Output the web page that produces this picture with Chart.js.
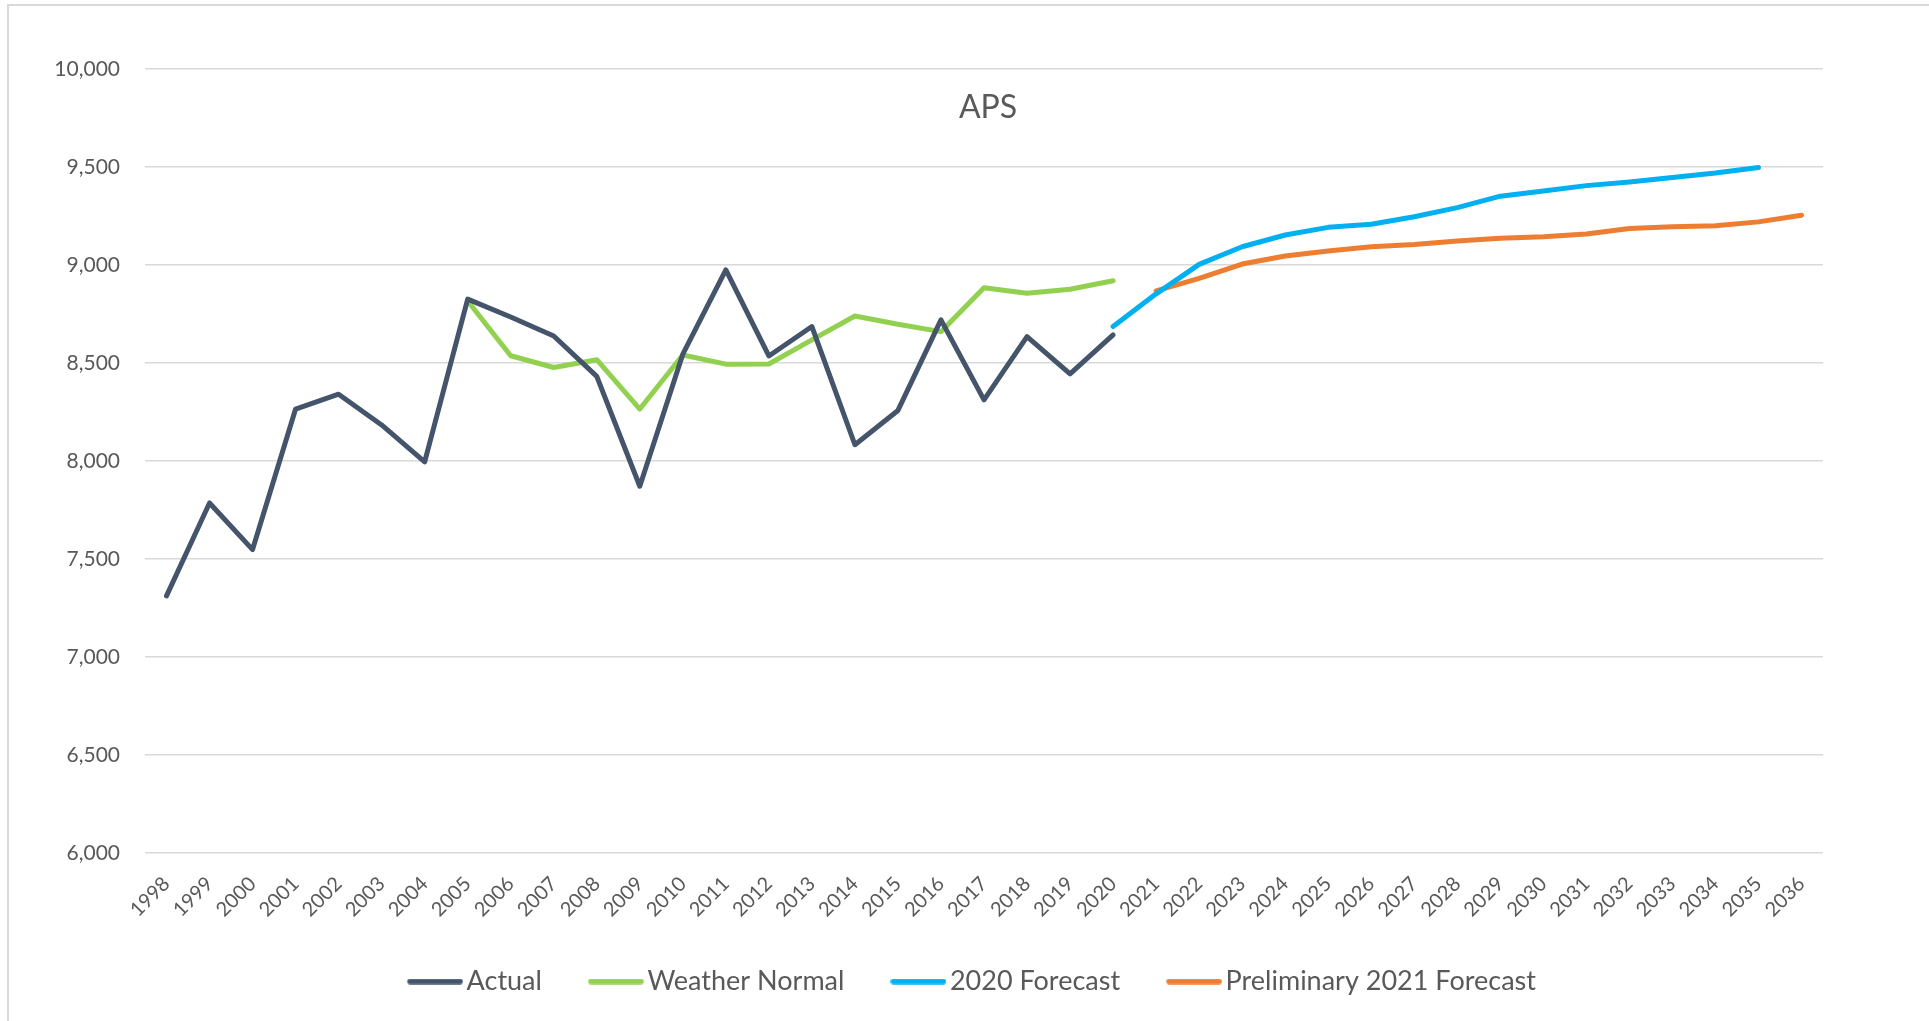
<!DOCTYPE html>
<html>
<head>
<meta charset="utf-8">
<script src="https://cdn.jsdelivr.net/npm/chart.js@4"></script>
<style>
  html, body { margin: 0; padding: 0; background: #ffffff; overflow: hidden; }
  #frame { position: absolute; left: 7px; top: 4px; width: 2000px; height: 1100px;
           border-left: 2px solid #d9d9d9; border-top: 2px solid #d9d9d9; box-sizing: border-box; }
  #c { position: absolute; left: 0; top: 0; }
</style>
</head>
<body>
<div id="frame"></div>
<canvas id="c" width="1929" height="1021"></canvas>
<script>
const chartTitle = "APS";
const years = ["1998","1999","2000","2001","2002","2003","2004","2005","2006","2007","2008","2009","2010",
  "2011","2012","2013","2014","2015","2016","2017","2018","2019","2020","2021","2022","2023","2024","2025",
  "2026","2027","2028","2029","2030","2031","2032","2033","2034","2035","2036"];

// Actual: 1998-2020
const actual = [7312,7786,7548,8265,8341,8184,7996,8826,8735,8638,8432,7871,8545,
  8975,8536,8686,8083,8258,8720,8312,8635,8444,8643,
  null,null,null,null,null,null,null,null,null,null,null,null,null,null,null,null];

// Weather Normal: 2005-2020
const weatherNormal = [null,null,null,null,null,null,null,8816,8537,8477,8517,8265,8541,
  8494,8495,8618,8740,8698,8660,8884,8856,8876,8920,
  null,null,null,null,null,null,null,null,null,null,null,null,null,null,null,null];

// 2020 Forecast: 2020-2035
const forecast2020 = [null,null,null,null,null,null,null,null,null,null,null,null,null,
  null,null,null,null,null,null,null,null,null,8686,
  8853,9003,9093,9153,9192,9208,9246,9293,9351,9378,9405,9424,9446,9469,9497,null];

// Preliminary 2021 Forecast: 2021-2036
const prelim2021 = [null,null,null,null,null,null,null,null,null,null,null,null,null,
  null,null,null,null,null,null,null,null,null,null,
  8868,8932,9005,9046,9071,9093,9105,9122,9136,9144,9158,9186,9195,9200,9220,9254];

const seriesNames = ["Actual","Weather Normal","2020 Forecast","Preliminary 2021 Forecast"];
const seriesColors = ["#44546A","#92D050","#00B0F0","#ED7D31"];
const yMin = 6000, yMax = 10000, yStep = 500;

const textColor = "#595959";
const fontFamily = "Lato, 'Open Sans', sans-serif";

// legend line swatch (drawn by Chart.js as the legend point style)
function legendSwatch(color) {
  const c = document.createElement("canvas");
  c.width = 56; c.height = 6;
  const g = c.getContext("2d");
  g.strokeStyle = color;
  g.lineWidth = 5.5;
  g.lineCap = "round";
  g.beginPath(); g.moveTo(3, 3); g.lineTo(53, 3); g.stroke();
  return c;
}
const swatches = seriesColors.map(legendSwatch);

const overlayTitle = {
  id: "overlayTitle",
  afterDraw(chart) {
    const ctx = chart.ctx;
    const a = chart.chartArea;
    ctx.save();
    ctx.font = "32px " + fontFamily;
    ctx.fillStyle = textColor;
    ctx.textAlign = "center";
    ctx.textBaseline = "middle";
    ctx.fillText(chartTitle, (a.left + a.right) / 2 + 4, 108);
    ctx.restore();
  }
};

// nudge the legend box to where it sits in the original chart
const legendNudge = {
  id: "legendNudge",
  afterLayout(chart) {
    const lg = chart.legend;
    if (!lg) return;
    lg.left += 65; lg.right += 65;
    lg.top -= 11; lg.bottom -= 11;
  }
};

function mkDataset(i, data) {
  return {
    label: seriesNames[i],
    data: data,
    borderColor: seriesColors[i],
    backgroundColor: seriesColors[i],
    borderWidth: 5,
    pointRadius: 0,
    pointHoverRadius: 0,
    tension: 0,
    spanGaps: false,
    borderCapStyle: "round",
    borderJoinStyle: "round",
    fill: false
  };
}

new Chart(document.getElementById("c"), {
  type: "line",
  data: {
    labels: years,
    datasets: [
      mkDataset(0, actual),
      mkDataset(1, weatherNormal),
      mkDataset(2, forecast2020),
      mkDataset(3, prelim2021)
    ]
  },
  plugins: [overlayTitle, legendNudge],
  options: {
    responsive: false,
    animation: false,
    events: [],
    layout: { padding: { top: 69, right: 106, bottom: 5, left: 0 } },
    plugins: {
      title: { display: false },
      tooltip: { enabled: false },
      legend: {
        display: true,
        position: "bottom",
        labels: {
          color: textColor,
          font: { family: fontFamily, size: 27 },
          usePointStyle: true,
          pointStyleWidth: 36,
          boxHeight: 6,
          padding: 56,
          generateLabels(chart) {
            const items = Chart.defaults.plugins.legend.labels.generateLabels(chart);
            return items.map(it => Object.assign(it, {
              pointStyle: swatches[it.datasetIndex], rotation: 0, lineWidth: 0
            }));
          }
        }
      }
    },
    scales: {
      x: {
        offset: true,
        grid: { display: false, drawTicks: false },
        border: { display: false },
        ticks: {
          color: textColor,
          font: { family: fontFamily, size: 20 },
          maxRotation: 45,
          minRotation: 45,
          autoSkip: false,
          padding: 19
        },
        afterFit(s) { s.height = 70; }
      },
      y: {
        min: yMin,
        max: yMax,
        grid: { color: "#d9d9d9", lineWidth: 1.5, drawTicks: false },
        border: { display: false },
        ticks: {
          stepSize: yStep,
          color: textColor,
          font: { family: fontFamily, size: 21 },
          padding: 25,
          callback: v => v.toLocaleString("en-US")
        },
        afterFit(s) { s.width = 145; }
      }
    }
  }
});
</script>
</body>
</html>
